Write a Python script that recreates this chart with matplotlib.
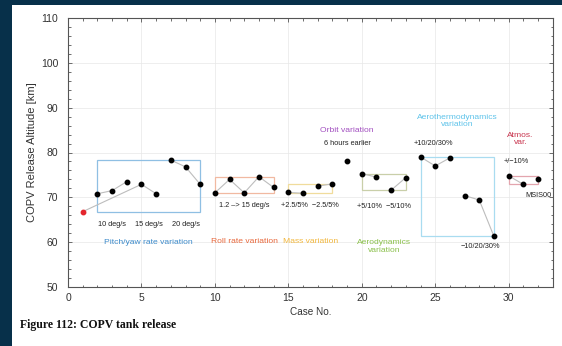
import matplotlib
matplotlib.use("Agg")
import matplotlib.pyplot as plt
from matplotlib.patches import Rectangle
from matplotlib.ticker import MultipleLocator

plt.rcParams['font.family'] = ['Liberation Sans', 'DejaVu Sans']

# Release altitude for each simulated case
cases = list(range(1, 33))
altitude = [66.8, 70.8, 71.5, 73.5, 72.9, 70.8, 78.3, 76.8, 72.9,
            71.0, 74.0, 71.0, 74.6, 72.2,
            71.1, 70.9, 72.5, 73.0,
            78.1,
            75.3, 74.5, 71.6, 74.4,
            79.0, 77.0, 78.8, 70.4, 69.4, 61.3,
            74.8, 72.9, 74.2]
nominal_case = 1

# Cases joined by connecting lines
line_runs = [[2, 3, 4], [1, 5, 6], [7, 8, 9], [10, 11, 12, 13, 14],
             [15, 16], [17, 18], [20, 21], [22, 23],
             [24, 25, 26], [27, 28, 29], [30, 31]]

# Variation groups: (cases spanned horizontally, cases spanned vertically)
group_names = ["Pitch/yaw rate variation", "Roll rate variation", "Mass variation",
               "Aerodynamics\nvariation", "Aerothermodynamics\nvariation", "Atmos.\nvar."]
group_x_cases = [[2, 9], [10, 14], [15, 18], [20, 23], [24, 29], [30, 32]]
group_y_cases = [list(range(1, 10)), list(range(10, 15)), list(range(15, 19)),
                 list(range(20, 24)), list(range(24, 30)), list(range(30, 33))]
group_box_colors = ["#8fbfe3", "#f1b9a1", "#f0dc9c", "#c9cfa9", "#a9dcf0", "#e3a5ae"]
group_text_colors = ["#3d8bcb", "#e8683c", "#f2b73c", "#8bc04c", "#5ec3ea", "#c8354e"]
group_label_pos = [(5.5, 60.0), (12.0, 60.1), (16.5, 60.1), (21.5, 59.0), (26.5, 87.0), (30.8, 83.0)]

# Sub-case annotations
notes = ["10 deg/s", "15 deg/s", "20 deg/s", "1.2 \u2013> 15 deg/s",
         "+2.5/5%  \u22122.5/5%", "6 hours earlier", "+5/10%  \u22125/10%",
         "+10/20/30%", "\u221210/20/30%", "+/\u221210%", "MSIS00"]
note_pos = [(3.0, 64.0), (5.5, 64.0), (8.0, 64.0), (12.0, 68.1),
            (16.5, 68.1), (19.0, 82.0), (21.5, 67.9),
            (24.9, 82.0), (28.05, 59.0), (30.5, 77.9), (32.0, 70.3)]

fig = plt.figure(figsize=(5.62, 3.46), dpi=100)
fig.patch.set_facecolor("#07304a")
fig.patches.append(Rectangle((12 / 562, 0), 1, 1 - 5 / 346, transform=fig.transFigure,
                             facecolor="white", edgecolor="none", zorder=-10))

ax = fig.add_axes([68 / 562, 1 - 287 / 346, (552.7 - 68) / 562, (287 - 18) / 346])
ax.set_xlim(0, 33)
ax.set_ylim(50, 110)
ax.xaxis.set_major_locator(MultipleLocator(5))
ax.xaxis.set_minor_locator(MultipleLocator(1))
ax.yaxis.set_major_locator(MultipleLocator(10))
ax.yaxis.set_minor_locator(MultipleLocator(2))
ax.tick_params(which="both", direction="in", top=True, right=True, colors="#555555",
               labelcolor="#333333", labelsize=7.5, width=0.6)
ax.tick_params(which="major", length=3)
ax.tick_params(which="minor", length=1.8)
ax.tick_params(axis="y", which="major", pad=7)
ax.tick_params(axis="x", which="major", pad=4)
ax.grid(True, which="major", color="#e8e8e8", linewidth=0.5)
ax.set_axisbelow(True)
for s in ax.spines.values():
    s.set_color("#555555")
    s.set_linewidth(0.8)

ax.set_xlabel("Case No.", fontsize=7.2, color="#333333", labelpad=3)
ax.set_ylabel("COPV Release Altitude [km]", fontsize=8, color="#333333", labelpad=2.5)

alt = dict(zip(cases, altitude))

# bounding boxes of each variation group
for xc, yc, ec in zip(group_x_cases, group_y_cases, group_box_colors):
    ys = [alt[c] for c in yc]
    ax.add_patch(Rectangle((xc[0], min(ys)), xc[1] - xc[0], max(ys) - min(ys),
                           fill=False, edgecolor=ec, linewidth=0.9, zorder=2))

for run in line_runs:
    ax.plot(run, [alt[c] for c in run], color="#bdbdbd", linewidth=0.8, zorder=3)

others = [c for c in cases if c != nominal_case]
ax.plot(others, [alt[c] for c in others], "o", color="black", markersize=3.2, zorder=4)
ax.plot([nominal_case], [alt[nominal_case]], "o", color="#e3262d", markersize=3.2, zorder=4)

for name, (x, y), col in zip(group_names, group_label_pos, group_text_colors):
    ax.text(x, y, name, color=col, fontsize=6.1, ha="center", va="center",
            linespacing=1.15, zorder=5)

ax.text(19.0, 85.0, "Orbit variation", color="#a24fc0", fontsize=6.1,
        ha="center", va="center", zorder=5)

for txt, (x, y) in zip(notes, note_pos):
    ax.text(x, y, txt, color="#222222", fontsize=5.3, ha="center", va="center", zorder=5)

fig.text(20 / 562, 1 - 325 / 346, "Figure 112: COPV tank release",
         family=["Liberation Serif", "DejaVu Serif"], weight="bold",
         fontsize=8.5, color="#111111", ha="left", va="center")

fig.savefig("out.png", dpi=100, facecolor=fig.get_facecolor())
